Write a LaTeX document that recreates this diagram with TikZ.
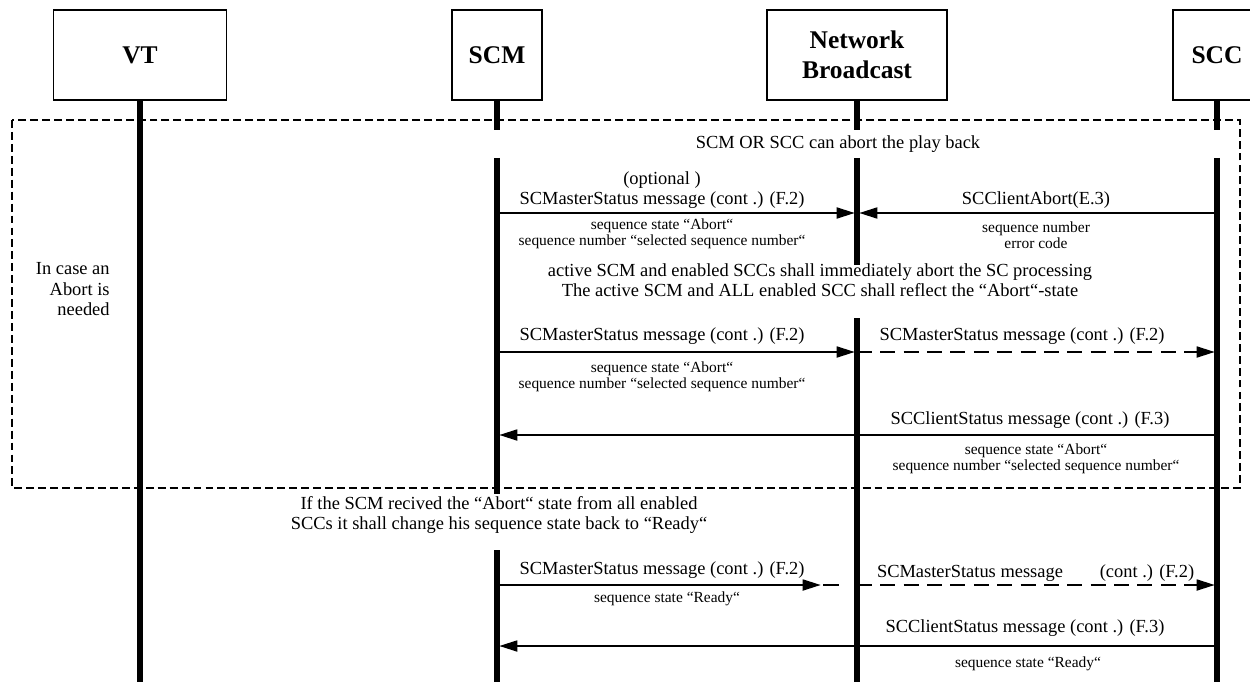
\documentclass[tikz,border=0pt]{standalone}
\usepackage{fontspec}
\setmainfont{Liberation Serif}
\usetikzlibrary{arrows.meta}
\tikzset{
  ent/.style={draw, line width=0.8pt, minimum width=#1, minimum height=1.8cm, font=\fontsize{14.5}{17}\selectfont\bfseries, align=center, inner sep=0pt},
  life/.style={line width=2.9pt},
  msg/.style={line width=1pt, shorten >=1.3pt, -{Triangle[length=0.36cm,width=0.22cm]}},
  bcast/.style={msg, dash pattern=on 8.5pt off 4.8pt},
  frame/.style={line width=0.6pt, dash pattern=on 4.5pt off 2.3pt},
  lbl/.style={font=\fontsize{10.5}{11.5}\selectfont, align=center, inner sep=0pt},
  subtxt/.style={font=\fontsize{8.8}{9.2}\selectfont, align=center, inner sep=0pt},
}
\begin{document}
\begin{tikzpicture}[x=0.02cm, y=-0.02cm]
\useasboundingbox (0,0) rectangle (1250,682);
\node[ent=3.46cm] (vt) at (140,55) {VT};
\node[ent=1.8cm] (scm) at (497,55) {SCM};
\node[ent=3.6cm] (nb) at (857,55) {Network\\Broadcast};
\node[ent=1.76cm] (scc) at (1217,55) {SCC};
\coordinate (top2) at (0,130);
\coordinate (top3) at (0,158);
\coordinate (n1) at (0,265);
\coordinate (n2) at (0,318);
\coordinate (s1) at (0,494);
\coordinate (s2) at (0,550);
\coordinate (bot) at (0,682);
\coordinate (r1) at (0,213);
\coordinate (r2) at (0,352);
\coordinate (r3) at (0,435);
\coordinate (r4) at (0,585);
\coordinate (r5) at (0,646);
\draw[life] (vt.south) -- (vt |- bot);
\draw[life] (scm.south) -- (scm |- top2) (scm |- top3) -- (scm |- s1) (scm |- s2) -- (scm |- bot);
\draw[life] (nb.south) -- (nb |- top2) (nb |- top3) -- (nb |- n1) (nb |- n2) -- (nb |- bot);
\draw[life] (scc.south) -- (scc |- top2) (scc |- top3) -- (scc |- bot);
\draw[frame] (12,120) rectangle (1240,488);
\node[lbl] (abort) at (838,144) {SCM OR SCC can abort the play back};
\node[lbl] (m1) at (662,190) {(optional )\\SCMasterStatus message (cont .) (F.2)};
\node[subtxt] (m1s) at (662,234) {sequence state “Abort“\\sequence number “selected sequence number“};
\node[lbl] (ca) at (1036,200) {SCClientAbort(E.3)};
\node[subtxt] (cas) at (1036,235) {sequence number\\error code};
\draw[msg] (scm |- r1) -- (nb |- r1);
\draw[msg] (scc |- r1) -- (nb |- r1);
\node[lbl] (act) at (820,280) {active SCM and enabled SCCs shall immediately abort the SC processing\\The active SCM and ALL enabled SCC shall reflect the “Abort“-state};
\node[lbl, anchor=east] (need) at (110,291) {\begin{tabular}{@{}r@{}}In case an\\Abort is\\needed\end{tabular}};
\node[lbl] (m2) at (662,336) {SCMasterStatus message (cont .) (F.2)};
\node[subtxt] (m2s) at (662,377) {sequence state “Abort“\\sequence number “selected sequence number“};
\node[lbl] (b2) at (1022,336) {SCMasterStatus message (cont .) (F.2)};
\draw[msg] (scm |- r2) -- (nb |- r2);
\draw[bcast] (nb |- r2) -- (scc |- r2);
\node[lbl] (c3) at (1030,420) {SCClientStatus message (cont .) (F.3)};
\node[subtxt] (c3s) at (1036,459) {sequence state “Abort“\\sequence number “selected sequence number“};
\draw[msg] (scc |- r3) -- (scm |- r3);
\node[lbl] (recv) at (499,515) {If the SCM recived the “Abort“ state from all enabled\\SCCs it shall change his sequence state back to “Ready“};
\node[lbl] (m4) at (662,570) {SCMasterStatus message (cont .) (F.2)};
\node[subtxt] (m4s) at (667,599) {sequence state “Ready“};
\coordinate (rdy) at (823,585);
\coordinate (rdyend) at (839,585);
\draw[msg] (scm |- r4) -- (rdy);
\draw[line width=1pt] (rdy) -- (rdyend);
\node[lbl] (b4a) at (970,573) {SCMasterStatus message};
\node[lbl] (b4b) at (1147,573) {(cont .) (F.2)};
\draw[bcast] (nb |- r4) -- (scc |- r4);
\node[lbl] (c5) at (1025,628) {SCClientStatus message (cont .) (F.3)};
\node[subtxt] (c5s) at (1028,664) {sequence state “Ready“};
\draw[msg] (scc |- r5) -- (scm |- r5);
\end{tikzpicture}
\end{document}
